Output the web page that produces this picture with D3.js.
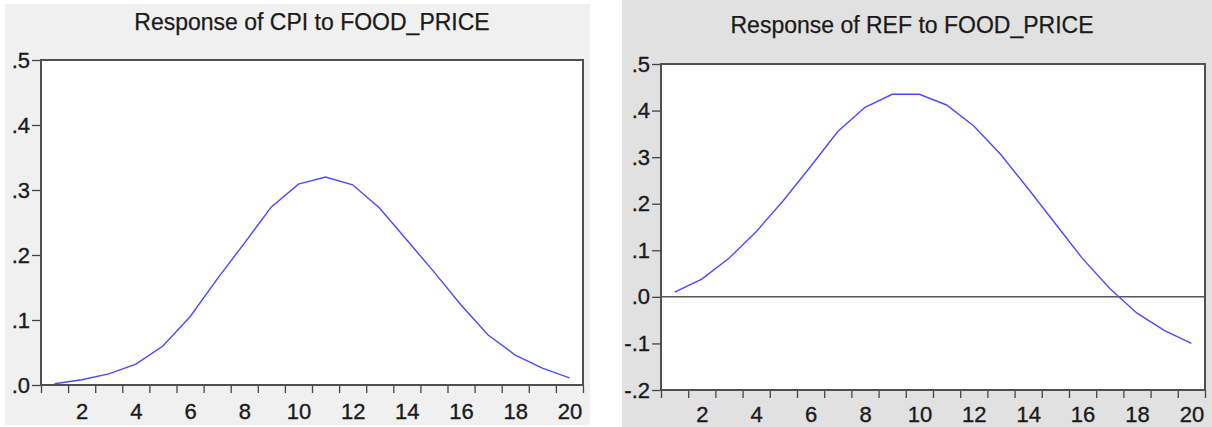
<!DOCTYPE html>
<html>
<head>
<meta charset="utf-8">
<script src="https://cdn.jsdelivr.net/npm/d3@7"></script>
<style>
  html, body { margin: 0; padding: 0; background: #ffffff; }
  svg { display: block; }
  text { font-family: Arial, "Liberation Sans", sans-serif; }
</style>
</head>
<body>
<svg id="chart" width="1212" height="427"></svg>
<script>
// Periods
const periods = d3.range(1, 21);
const xTickLabels = [2, 4, 6, 8, 10, 12, 14, 16, 18, 20];

// Response of CPI to FOOD_PRICE
const cpiValues = [0.002, 0.008, 0.017, 0.032, 0.060, 0.105, 0.163, 0.218, 0.274, 0.309,
                   0.320, 0.308, 0.272, 0.223, 0.174, 0.123, 0.077, 0.046, 0.026, 0.011];
const cpiTicks = [0, 0.1, 0.2, 0.3, 0.4, 0.5];
const cpiTickLabels = [".0", ".1", ".2", ".3", ".4", ".5"];

// Response of REF to FOOD_PRICE
const refValues = [0.010, 0.038, 0.083, 0.140, 0.207, 0.280, 0.355, 0.407, 0.435, 0.435,
                   0.412, 0.367, 0.305, 0.232, 0.157, 0.082, 0.018, -0.035, -0.072, -0.100];
const refTicks = [-0.2, -0.1, 0, 0.1, 0.2, 0.3, 0.4, 0.5];
const refTickLabels = ["-.2", "-.1", ".0", ".1", ".2", ".3", ".4", ".5"];

const panels = [
  { title: "Response of CPI to FOOD_PRICE", values: cpiValues, ticks: cpiTicks, labels: cpiTickLabels,
    domain: [0, 0.5], bg: [5, 4, 585, 421], bgColor: "#f0f0f0",
    plot: { left: 41, right: 583, top: 60, bottom: 385 }, titleX: 312, titleY: 30, xLabelBase: 419, zeroLine: false },
  { title: "Response of REF to FOOD_PRICE", values: refValues, ticks: refTicks, labels: refTickLabels,
    domain: [-0.2, 0.5], bg: [622, 0, 590, 427], bgColor: "#e1e1e1",
    plot: { left: 661, right: 1205, top: 64, bottom: 390 }, titleX: 912, titleY: 33, xLabelBase: 422, zeroLine: true }
];

const svg = d3.select("#chart");
const labelFont = 22;

panels.forEach(p => {
  const g = svg.append("g");
  g.append("rect")
    .attr("x", p.bg[0]).attr("y", p.bg[1])
    .attr("width", p.bg[2]).attr("height", p.bg[3])
    .attr("fill", p.bgColor);

  const x = d3.scaleLinear().domain([0.5, 20.5]).range([p.plot.left, p.plot.right]);
  const y = d3.scaleLinear().domain(p.domain).range([p.plot.bottom, p.plot.top]);

  // plot area
  g.append("rect")
    .attr("x", p.plot.left).attr("y", p.plot.top)
    .attr("width", p.plot.right - p.plot.left)
    .attr("height", p.plot.bottom - p.plot.top)
    .attr("fill", "#ffffff");

  // title
  g.append("text")
    .attr("x", p.titleX).attr("y", p.titleY)
    .attr("text-anchor", "middle")
    .style("font-size", "23px")
    .attr("fill", "#1a1a1a")
    .attr("stroke", "#1a1a1a").attr("stroke-width", 0.25)
    .text(p.title);

  // y axis
  const yAxis = d3.axisLeft(y)
    .tickValues(p.ticks)
    .tickSize(9)
    .tickPadding(2)
    .tickFormat((d, i) => p.labels[i]);
  const ya = g.append("g").attr("transform", `translate(${p.plot.left},0)`).call(yAxis);
  ya.attr("font-size", null).attr("font-family", null);
  ya.select(".domain").remove();
  ya.selectAll(".tick line").attr("stroke", "#444").attr("stroke-width", 1.3);
  ya.selectAll(".tick text").style("font-size", labelFont + "px").attr("fill", "#1a1a1a")
    .attr("stroke", "#1a1a1a").attr("stroke-width", 0.35);

  // x axis tick marks at period boundaries
  const xTicksAxis = d3.axisBottom(x)
    .tickValues(d3.range(0.5, 20.6, 1))
    .tickSize(8)
    .tickFormat("");
  const xa = g.append("g").attr("transform", `translate(0,${p.plot.bottom})`).call(xTicksAxis);
  xa.select(".domain").remove();
  xa.selectAll(".tick line").attr("stroke", "#444").attr("stroke-width", 1.3);

  // x axis labels at period centres
  const xLabelAxis = d3.axisBottom(x)
    .tickValues(xTickLabels)
    .tickSize(0)
    .tickFormat(d3.format("d"));
  const xl = g.append("g").attr("transform", `translate(0,${p.plot.bottom})`).call(xLabelAxis);
  xl.attr("font-size", null).attr("font-family", null);
  xl.select(".domain").remove();
  xl.selectAll(".tick text")
    .attr("y", p.xLabelBase - p.plot.bottom).attr("dy", 0)
    .style("font-size", labelFont + "px").attr("fill", "#1a1a1a")
    .attr("stroke", "#1a1a1a").attr("stroke-width", 0.35);

  // zero line
  if (p.zeroLine) {
    g.append("line")
      .attr("x1", p.plot.left).attr("x2", p.plot.right)
      .attr("y1", y(0)).attr("y2", y(0))
      .attr("stroke", "#000").attr("stroke-width", 1);
  }

  // series line
  const line = d3.line().x((d, i) => x(periods[i])).y(d => y(d));
  g.append("path")
    .datum(p.values)
    .attr("d", line)
    .attr("fill", "none")
    .attr("stroke", "#4a4aff")
    .attr("stroke-width", 1.4);

  // frame
  g.append("rect")
    .attr("x", p.plot.left).attr("y", p.plot.top)
    .attr("width", p.plot.right - p.plot.left)
    .attr("height", p.plot.bottom - p.plot.top)
    .attr("fill", "none")
    .attr("stroke", "#505050")
    .attr("stroke-width", 2);
});
</script>
</body>
</html>
